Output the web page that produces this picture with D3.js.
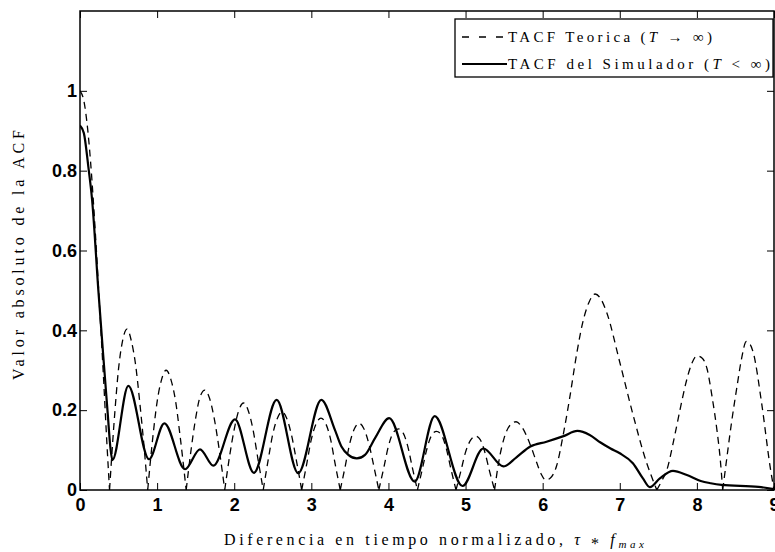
<!DOCTYPE html>
<html>
<head>
<meta charset="utf-8">
<script src="https://cdn.jsdelivr.net/npm/d3@7"></script>
<style>
  html, body { margin: 0; padding: 0; background: #fff; }
  svg { display: block; }
  .tick text { font-family: "Liberation Sans", Arial, sans-serif; font-weight: bold; font-size: 18px; fill: #000; }
  .lbl { font-family: "Liberation Serif", "Times New Roman", serif; fill: #000; }
</style>
</head>
<body>
<svg id="chart" width="775" height="552"></svg>
<script>
// Theoretical TACF (T -> infinity): normalised lag and |ACF|
const tauTeo = [
  0, 0.05, 0.1, 0.15, 0.2, 0.25, 0.3, 0.35, 0.383,
  0.45, 0.5, 0.55, 0.61, 0.67, 0.72, 0.78, 0.83, 0.878,
  0.95, 1.0, 1.05, 1.117, 1.18, 1.24, 1.3, 1.377,
  1.44, 1.5, 1.56, 1.62, 1.68, 1.74, 1.81, 1.877,
  1.94, 2.0, 2.06, 2.12, 2.18, 2.24, 2.31, 2.376,
  2.44, 2.5, 2.56, 2.62, 2.68, 2.74, 2.81, 2.875,
  2.94, 3.0, 3.06, 3.125, 3.19, 3.25, 3.31, 3.375,
  3.44, 3.5, 3.56, 3.62, 3.68, 3.75, 3.81, 3.875,
  3.94, 4.0, 4.06, 4.13, 4.19, 4.25, 4.31, 4.376,
  4.44, 4.5, 4.56, 4.623, 4.69, 4.75, 4.81, 4.876,
  4.94, 5.0, 5.07, 5.13, 5.19, 5.25, 5.31, 5.376,
  5.43, 5.5, 5.58, 5.655, 5.73, 5.84, 5.92, 5.98, 6.04, 6.1, 6.18, 6.27, 6.35, 6.44, 6.52, 6.6, 6.68,
  6.75, 6.83, 7.0, 7.17, 7.35, 7.41, 7.48,
  7.55, 7.61, 7.7, 7.78, 7.86, 7.93, 8.0, 8.07, 8.13, 8.2, 8.26, 8.3, 8.335,
  8.39, 8.45, 8.52, 8.58, 8.64, 8.69, 8.73, 8.84, 8.95, 9.0
];
const acfTeo = [
  1.0, 0.975, 0.903, 0.789, 0.641, 0.472, 0.299, 0.113, 0,
  0.19, 0.304, 0.372, 0.403, 0.37, 0.315, 0.21, 0.11, 0,
  0.142, 0.221, 0.271, 0.300, 0.276, 0.222, 0.132, 0,
  0.10, 0.18, 0.235, 0.250, 0.23, 0.18, 0.095, 0,
  0.085, 0.152, 0.20, 0.218, 0.20, 0.155, 0.075, 0,
  0.075, 0.14, 0.18, 0.196, 0.18, 0.14, 0.07, 0,
  0.065, 0.127, 0.165, 0.180, 0.165, 0.127, 0.064, 0,
  0.06, 0.118, 0.154, 0.167, 0.154, 0.113, 0.06, 0,
  0.056, 0.11, 0.143, 0.153, 0.143, 0.11, 0.056, 0,
  0.053, 0.104, 0.137, 0.147, 0.137, 0.104, 0.053, 0,
  0.048, 0.095, 0.126, 0.135, 0.126, 0.095, 0.048, 0,
  0.07, 0.13, 0.163, 0.171, 0.158, 0.113, 0.07, 0.04, 0.025, 0.03, 0.06, 0.142, 0.23, 0.34, 0.42, 0.47, 0.491,
  0.48, 0.445, 0.32, 0.19, 0.067, 0.035, 0,
  0.025, 0.05, 0.125, 0.2, 0.27, 0.315, 0.336, 0.33, 0.305, 0.23, 0.15, 0.083, 0,
  0.083, 0.17, 0.259, 0.33, 0.372, 0.365, 0.345, 0.217, 0.058, 0
];

// Simulated TACF (T < infinity)
const tauSim = [
  0, 0.05, 0.108, 0.157, 0.238, 0.3, 0.36, 0.395, 0.42,
  0.627, 0.895, 1.094, 1.362, 1.556, 1.73, 2.01, 2.255,
  2.55, 2.83, 3.13, 3.307, 3.39, 3.48, 3.59, 3.696, 3.826, 4.01,
  4.34, 4.6, 4.96, 5.23, 5.49, 5.66, 5.84, 6.05, 6.27, 6.45, 6.61, 6.75, 6.88,
  7.0, 7.17, 7.3, 7.39, 7.52, 7.69, 7.87, 8.05, 8.18, 8.32, 8.8, 9.0
];
const acfSim = [
  0.913, 0.894, 0.81, 0.727, 0.5, 0.34, 0.19, 0.105, 0.075,
  0.261, 0.077, 0.167, 0.052, 0.102, 0.061, 0.177, 0.043,
  0.226, 0.042, 0.226, 0.150, 0.109, 0.088, 0.079, 0.088, 0.13, 0.18,
  0.021, 0.185, 0.01, 0.104, 0.059, 0.082, 0.109, 0.121, 0.135, 0.148, 0.138, 0.119, 0.104,
  0.092, 0.067, 0.029, 0.007, 0.029, 0.048, 0.0375, 0.0225, 0.017, 0.013, 0.008, 0.002
];

const xTicks = [0, 1, 2, 3, 4, 5, 6, 7, 8, 9];
const yTicks = [0, 0.2, 0.4, 0.6, 0.8, 1];
const legendLabels = ["TACF Teorica", "TACF del Simulador"];

const svg = d3.select("#chart");
const L = 80, R = 774, T = 11, B = 490;

const x = d3.scaleLinear().domain([0, 9]).range([L, R]);
const y = d3.scaleLinear().domain([0, 1.2]).range([B, T]);

// Clip to the plot box
svg.append("clipPath").attr("id", "plotClip")
  .append("rect").attr("x", L).attr("y", T).attr("width", R - L).attr("height", B - T);

const plot = svg.append("g").attr("clip-path", "url(#plotClip)");

// Theoretical curve: each lobe between zeros is drawn as its own sub-path
const teo = tauTeo.map((t, i) => [t, acfTeo[i]]);
const lobes = [];
let cur = [];
teo.forEach(p => {
  cur.push(p);
  if (p[1] === 0 && cur.length > 1) { lobes.push(cur); cur = [p]; }
});
if (cur.length > 1) lobes.push(cur);

const lobeLine = d3.line().x(d => x(d[0])).y(d => y(d[1])).curve(d3.curveMonotoneX);
plot.append("path")
  .attr("d", lobes.map(l => lobeLine(l)).join(""))
  .attr("fill", "none")
  .attr("stroke", "#000")
  .attr("stroke-width", 1.3)
  .attr("stroke-dasharray", "7,5");

// Simulated curve
const sim = tauSim.map((t, i) => [t, acfSim[i]]);
plot.append("path")
  .attr("d", d3.line().x(d => x(d[0])).y(d => y(d[1])).curve(d3.curveMonotoneX)(sim))
  .attr("fill", "none")
  .attr("stroke", "#000")
  .attr("stroke-width", 2.2)
  .attr("stroke-linejoin", "round");

// Axes with inward ticks on all four sides
const tickLen = 7;
const gx = svg.append("g").attr("transform", `translate(0,${B})`)
  .call(d3.axisBottom(x).tickValues(xTicks).tickFormat(d3.format("~g"))
    .tickSizeInner(-tickLen).tickSizeOuter(0).tickPadding(8));
const gxt = svg.append("g").attr("transform", `translate(0,${T})`)
  .call(d3.axisTop(x).tickValues(xTicks).tickFormat("")
    .tickSizeInner(-tickLen).tickSizeOuter(0));
const gy = svg.append("g").attr("transform", `translate(${L},0)`)
  .call(d3.axisLeft(y).tickValues(yTicks).tickFormat(d3.format("~g"))
    .tickSizeInner(-tickLen).tickSizeOuter(0).tickPadding(3));
const gyr = svg.append("g").attr("transform", `translate(${R},0)`)
  .call(d3.axisRight(y).tickValues(yTicks).tickFormat("")
    .tickSizeInner(-tickLen).tickSizeOuter(0));
[gx, gxt, gy, gyr].forEach(g => {
  g.select(".domain").remove();
  g.selectAll(".tick line").attr("stroke", "#000").attr("stroke-width", 1);
});

// Axes box
svg.append("rect")
  .attr("x", L).attr("y", T).attr("width", R - L).attr("height", B - T)
  .attr("fill", "none").attr("stroke", "#000").attr("stroke-width", 1.5);

// Axis titles
const xt = svg.append("text").attr("class", "lbl")
  .attr("x", 434).attr("y", 545).attr("text-anchor", "middle")
  .attr("font-size", 16)
  .attr("textLength", 420).attr("lengthAdjust", "spacing");
xt.append("tspan").text("Diferencia en tiempo normalizado, ");
xt.append("tspan").attr("font-style", "italic").text("τ");
xt.append("tspan").text(" ");
xt.append("tspan").attr("font-size", 16).attr("dy", 4).text("*");
xt.append("tspan").attr("dy", -4).text(" ");
xt.append("tspan").attr("font-style", "italic").text("f");
xt.append("tspan").attr("font-style", "italic").attr("font-size", 11).attr("dy", 3).text("max");

svg.append("text").attr("class", "lbl")
  .attr("transform", `translate(24,255) rotate(-90)`)
  .attr("text-anchor", "middle")
  .attr("font-size", 16)
  .attr("textLength", 250).attr("lengthAdjust", "spacing")
  .text("Valor absoluto de la ACF");

// Legend
const lg = svg.append("g");
lg.append("rect").attr("x", 455).attr("y", 19).attr("width", 318).attr("height", 58)
  .attr("fill", "#fff").attr("stroke", "#000").attr("stroke-width", 1.3);
lg.append("line").attr("x1", 462).attr("x2", 503).attr("y1", 37).attr("y2", 37)
  .attr("stroke", "#000").attr("stroke-width", 1.3).attr("stroke-dasharray", "7,10");
lg.append("line").attr("x1", 462).attr("x2", 507).attr("y1", 64).attr("y2", 64)
  .attr("stroke", "#000").attr("stroke-width", 2.2);

const t1 = lg.append("text").attr("class", "lbl").attr("x", 508).attr("y", 42)
  .attr("font-size", 15).attr("textLength", 204).attr("lengthAdjust", "spacing");
t1.append("tspan").text(legendLabels[0] + " (");
t1.append("tspan").attr("font-style", "italic").text("T");
t1.append("tspan").text(" → ∞)");

const t2 = lg.append("text").attr("class", "lbl").attr("x", 508).attr("y", 69)
  .attr("font-size", 15).attr("textLength", 262).attr("lengthAdjust", "spacing");
t2.append("tspan").text(legendLabels[1] + " (");
t2.append("tspan").attr("font-style", "italic").text("T");
t2.append("tspan").text(" < ∞)");
</script>
</body>
</html>
